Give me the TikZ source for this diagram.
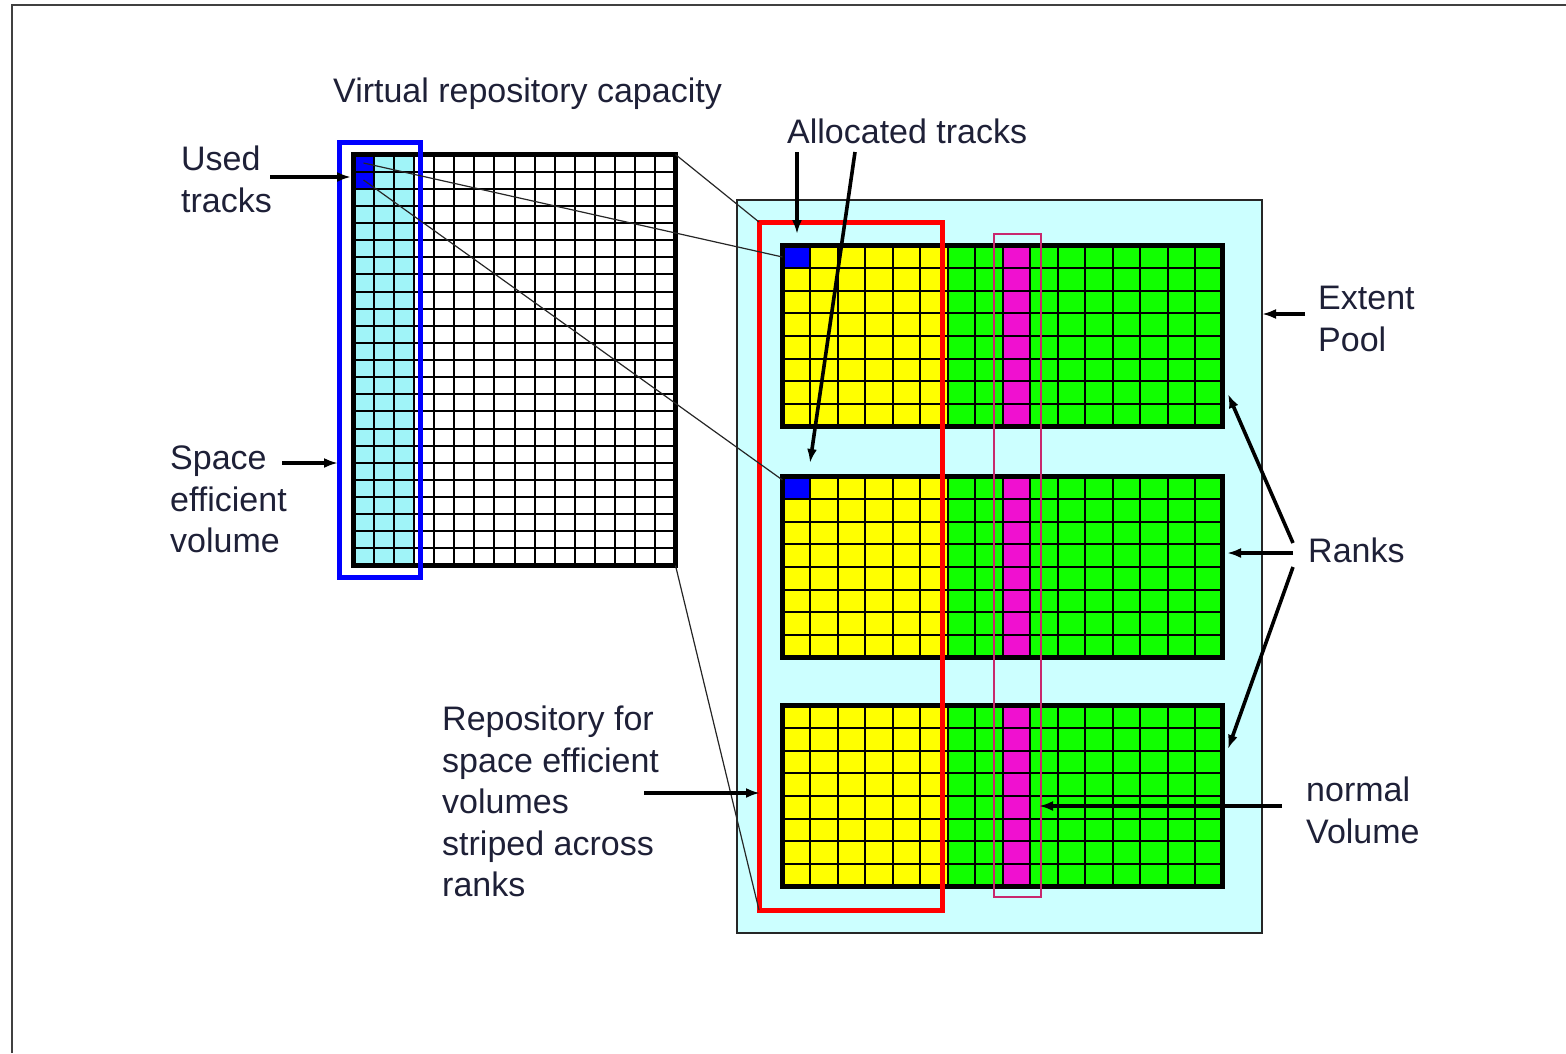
\documentclass[tikz,border=0pt]{standalone}
\usepackage{fontspec}
\setmainfont{Liberation Sans}
\usetikzlibrary{arrows.meta}
\definecolor{txt}{RGB}{30,32,55}
\definecolor{cyanl}{RGB}{160,244,248}
\definecolor{poolc}{RGB}{204,255,255}
\definecolor{yel}{RGB}{255,255,0}
\definecolor{grn}{RGB}{17,255,0}
\definecolor{mag}{RGB}{240,16,208}
\definecolor{magline}{RGB}{200,40,110}
\definecolor{cellblue}{RGB}{0,0,255}
\begin{document}
\begin{tikzpicture}[x=1pt,y=-1pt,
  lbl/.style={font=\fontsize{34}{41.5}\selectfont, text=txt, align=left, anchor=north west, inner sep=0pt},
  arr/.style={line width=3.6pt, -{Latex[length=14pt,width=10pt]}},
  gl/.style={line width=2pt, black},
  thinln/.style={line width=1.2pt, black!85},
  box/.style={anchor=north west, inner sep=0pt, outer sep=0pt},
]
\useasboundingbox (0,0) rectangle (1566,1053);
% outer frame
\draw[line width=2.2pt, black!75] (12,1053) -- (12,5) -- (1566,5);

% extent pool background
\node[box, fill=poolc, draw=black!85, line width=1.3pt, minimum width=525pt, minimum height=733pt] (pool) at (737,200) {};

% virtual repository grid
\fill[cyanl] (353.5,154.5) rectangle (413.9,565.5);
\fill[cellblue] (353.5,154.5) rectangle (373.6,188.75);
\foreach \i in {1,...,15} \draw[gl] (353.5+\i*20.125,154.5) -- ++(0,411);
\foreach \j in {1,...,23} \draw[gl] (353.5,154.5+\j*17.125) -- ++(322,0);
\node[box, draw, line width=5.5pt, minimum width=322pt, minimum height=411pt] (vgrid) at (353.5,154.5) {};
\node[box, draw=cellblue, line width=5pt, minimum width=80.5pt, minimum height=435pt] (sevbox) at (339.5,142.5) {};

% ranks
\foreach \T/\nm/\bl in {245.5/rankA/1, 476.5/rankB/1, 705.5/rankC/0}{
  \fill[yel] (782.5,\T) rectangle (947.5,\T+181);
  \fill[grn] (947.5,\T) rectangle (1222.5,\T+181);
  \fill[mag] (1002.5,\T) rectangle (1030,\T+181);
  \ifnum\bl=1 \fill[cellblue] (782.5,\T) rectangle (810,\T+22.625); \fi
  \foreach \i in {1,...,15} \draw[gl] (782.5+\i*27.5,\T) -- ++(0,181);
  \foreach \j in {1,...,7} \draw[gl] (782.5,\T+\j*22.625) -- ++(440,0);
  \node[box, draw, line width=5.5pt, minimum width=440pt, minimum height=181pt] (\nm) at (782.5,\T) {};
}

% repository (red) and normal volume outline
\node[box, draw=red, line width=5pt, minimum width=183pt, minimum height=688pt] (repo) at (759,222) {};
\node[box, draw=magline, line width=1.6pt, minimum width=47pt, minimum height=663pt] (nvol) at (994,234) {};

% thin mapping lines
\coordinate (u1) at (363.5,163);
\coordinate (u2) at (363.5,180);
\coordinate (a1) at (782.5,257);
\coordinate (a2) at (782.5,480);
\draw[thinln] (u1) -- (a1);
\draw[thinln] (u2) -- (a2);
\draw[thinln] (vgrid.north east) -- (repo.north west);
\draw[thinln] (vgrid.south east) -- (repo.south west);

% labels
\node[lbl] (vrc) at (333,78) {Virtual repository capacity};
\node[lbl] (used) at (181,146) {Used\\tracks};
\node[lbl] (sev) at (170,446) {Space\\efficient\\volume};
\node[lbl] (alloc) at (787,119) {Allocated tracks};
\node[lbl] (ext) at (1318,286) {Extent\\Pool};
\node[lbl] (ranks) at (1308,538) {Ranks};
\node[lbl] (nv) at (1306,777) {normal\\Volume};
\node[lbl] (rep) at (442,706) {Repository for\\space efficient\\volumes\\striped across\\ranks};

% arrows
\coordinate (usedS) at (270,177);   \coordinate (usedE) at (351,177);
\coordinate (sevS) at (282,463);    \coordinate (sevE) at (338,463);
\coordinate (alS1) at (797,152);    \coordinate (alE1) at (797,234);
\coordinate (alS2) at (855,152);    \coordinate (alE2) at (810,463);
\coordinate (extS) at (1305,314);   \coordinate (extE) at (1262,314);
\coordinate (rkS1) at (1293,543);   \coordinate (rkE1) at (1228,394);
\coordinate (rkS2) at (1293,553);   \coordinate (rkE2) at (1227,553);
\coordinate (rkS3) at (1293,567);   \coordinate (rkE3) at (1228,749);
\coordinate (nvS) at (1282,806);    \coordinate (nvE) at (1039,806);
\coordinate (repS) at (644,793);    \coordinate (repE) at (760,793);
\draw[arr] (usedS) -- (usedE);
\draw[arr] (sevS) -- (sevE);
\draw[arr] (alS1) -- (alE1);
\draw[arr] (alS2) -- (alE2);
\draw[arr] (extS) -- (extE);
\draw[arr] (rkS1) -- (rkE1);
\draw[arr] (rkS2) -- (rkE2);
\draw[arr] (rkS3) -- (rkE3);
\draw[arr] (nvS) -- (nvE);
\draw[arr] (repS) -- (repE);
\end{tikzpicture}
\end{document}
